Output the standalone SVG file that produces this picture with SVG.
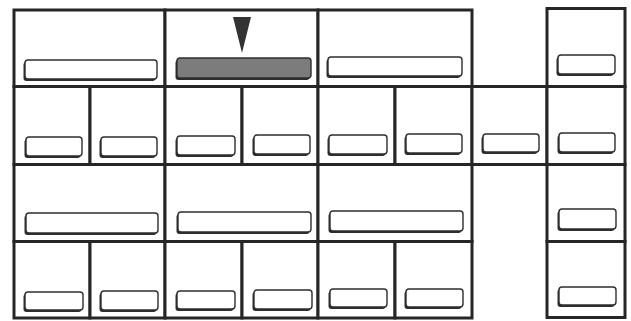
<svg xmlns="http://www.w3.org/2000/svg" width="631" height="321" viewBox="0 0 631 321">
<style>
.cell{fill:#fff;stroke:#262626;stroke-width:3}
.sh{fill:#2e2e2e}
.h{fill:#fff;stroke:#2e2e2e;stroke-width:1.4}
.hd{fill:#7c7c7c;stroke:#2e2e2e;stroke-width:1.4}
</style>
<rect width="631" height="321" fill="#fff"/>
<g id="connectors"/>
<!-- row 0 -->
<g id="c00"><rect class="cell" x="14" y="10" width="151" height="76.5"/><rect class="sh" x="23.5" y="62" width="132" height="19" rx="3"/><rect class="h" x="25" y="60" width="132" height="19" rx="3"/></g>
<g id="c01"><rect class="cell" x="165" y="10" width="153" height="76.5"/><rect class="sh" x="175.5" y="60" width="134" height="20" rx="3"/><rect class="hd" x="177" y="58" width="134" height="20" rx="3"/><polygon points="233,17 251,17 242,53" fill="#333"/></g>
<g id="c02"><rect class="cell" x="318" y="10" width="154" height="76.5"/><rect class="sh" x="326.5" y="59" width="134" height="19" rx="3"/><rect class="h" x="328" y="57" width="134" height="19" rx="3"/></g>
<g id="c03"><rect class="cell" x="547" y="8.5" width="78" height="78"/><rect class="sh" x="556.5" y="57" width="57" height="19" rx="3"/><rect class="h" x="558" y="55" width="57" height="19" rx="3"/></g>
<!-- row 1 -->
<g id="c10"><rect class="cell" x="14" y="86.5" width="76" height="78"/><rect class="sh" x="24.5" y="139" width="56" height="19" rx="3"/><rect class="h" x="26" y="137" width="56" height="19" rx="3"/></g>
<g id="c11"><rect class="cell" x="90" y="86.5" width="75" height="78"/><rect class="sh" x="99.5" y="139" width="56" height="19" rx="3"/><rect class="h" x="101" y="137" width="56" height="19" rx="3"/></g>
<g id="c12"><rect class="cell" x="165" y="86.5" width="77" height="78"/><rect class="sh" x="175.5" y="138" width="58" height="19" rx="3"/><rect class="h" x="177" y="136" width="58" height="19" rx="3"/></g>
<g id="c13"><rect class="cell" x="242" y="86.5" width="76" height="78"/><rect class="sh" x="252.5" y="137" width="56" height="19" rx="3"/><rect class="h" x="254" y="135" width="56" height="19" rx="3"/></g>
<g id="c14"><rect class="cell" x="318" y="86.5" width="77" height="78"/><rect class="sh" x="327.5" y="137" width="58" height="19" rx="3"/><rect class="h" x="329" y="135" width="58" height="19" rx="3"/></g>
<g id="c15"><rect class="cell" x="395" y="86.5" width="77" height="78"/><rect class="sh" x="404.5" y="136" width="56" height="19" rx="3"/><rect class="h" x="406" y="134" width="56" height="19" rx="3"/></g>
<g id="c16"><rect class="cell" x="472" y="86.5" width="75" height="78"/><rect class="sh" x="481.5" y="136" width="56" height="18" rx="3"/><rect class="h" x="483" y="134" width="56" height="18" rx="3"/></g>
<g id="c17"><rect class="cell" x="547" y="86.5" width="78" height="78"/><rect class="sh" x="557.5" y="135" width="56" height="19" rx="3"/><rect class="h" x="559" y="133" width="56" height="19" rx="3"/></g>
<!-- row 2 -->
<g id="c20"><rect class="cell" x="14" y="164.5" width="151" height="77"/><rect class="sh" x="24.5" y="215" width="132" height="20" rx="3"/><rect class="h" x="26" y="213" width="132" height="20" rx="3"/></g>
<g id="c21"><rect class="cell" x="165" y="164.5" width="153" height="77"/><rect class="sh" x="176.5" y="214" width="133" height="20" rx="3"/><rect class="h" x="178" y="212" width="133" height="20" rx="3"/></g>
<g id="c22"><rect class="cell" x="318" y="164.5" width="154" height="77"/><rect class="sh" x="328.5" y="213" width="133" height="20" rx="3"/><rect class="h" x="330" y="211" width="133" height="20" rx="3"/></g>
<g id="c23"><rect class="cell" x="547" y="164.5" width="78" height="77"/><rect class="sh" x="557.5" y="211" width="57" height="20" rx="3"/><rect class="h" x="559" y="209" width="57" height="20" rx="3"/></g>
<!-- row 3 -->
<g id="c30"><rect class="cell" x="14" y="241.5" width="76" height="76.5"/><rect class="sh" x="23.5" y="294" width="58" height="18" rx="3"/><rect class="h" x="25" y="292" width="58" height="18" rx="3"/></g>
<g id="c31"><rect class="cell" x="90" y="241.5" width="75" height="76.5"/><rect class="sh" x="99.5" y="293" width="57" height="19" rx="3"/><rect class="h" x="101" y="291" width="57" height="19" rx="3"/></g>
<g id="c32"><rect class="cell" x="165" y="241.5" width="77" height="76.5"/><rect class="sh" x="175.5" y="293" width="58" height="18" rx="3"/><rect class="h" x="177" y="291" width="58" height="18" rx="3"/></g>
<g id="c33"><rect class="cell" x="242" y="241.5" width="76" height="76.5"/><rect class="sh" x="252.5" y="292" width="58" height="19" rx="3"/><rect class="h" x="254" y="290" width="58" height="19" rx="3"/></g>
<g id="c34"><rect class="cell" x="318" y="241.5" width="77" height="76.5"/><rect class="sh" x="328.5" y="291" width="57" height="18" rx="3"/><rect class="h" x="330" y="289" width="57" height="18" rx="3"/></g>
<g id="c35"><rect class="cell" x="395" y="241.5" width="77" height="76.5"/><rect class="sh" x="404.5" y="291" width="57" height="18" rx="3"/><rect class="h" x="406" y="289" width="57" height="18" rx="3"/></g>
<g id="c36"><rect class="cell" x="547" y="241.5" width="78" height="76"/><rect class="sh" x="557.5" y="289" width="57" height="18" rx="3"/><rect class="h" x="559" y="287" width="57" height="18" rx="3"/></g>
</svg>
